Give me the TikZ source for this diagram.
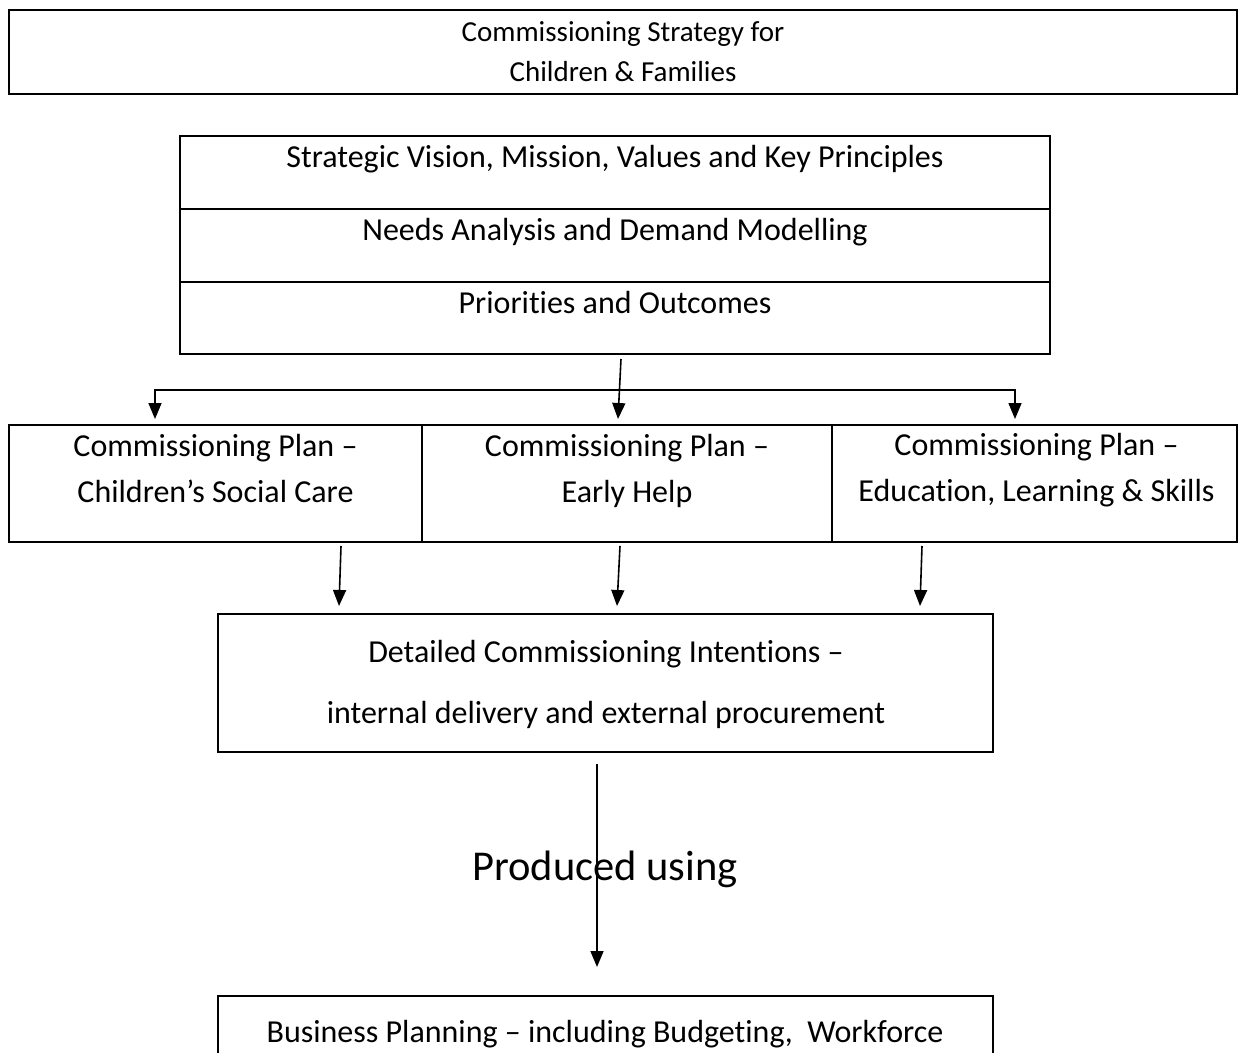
\documentclass[tikz,border=0pt]{standalone}
\usepackage{fontspec}
\setmainfont{Carlito}[Ligatures=NoCommon]
\usetikzlibrary{arrows.meta}
\tikzset{
	box/.style={draw, line width=2pt, inner sep=0pt},
	txt/.style={font=\fontsize{32}{46}\selectfont, align=center, inner sep=0pt},
	arr/.style={-{Triangle[length=16pt,width=13pt]}, line width=1.6pt},
}
\begin{document}
\begin{tikzpicture}[x=1pt, y=-1pt]
		\clip (0,0) rectangle (1239,1052);
		
		\node[box, minimum width=1228pt, minimum height=84pt, align=center, font=\fontsize{29}{40}\selectfont] (strategy) at (623,52) {Commissioning Strategy for\\Children \& Families};
		
		\node[box, minimum width=870pt, minimum height=73pt] (vision) at (615,172.5) {};
		\node[box, minimum width=870pt, minimum height=73pt] (needs) at (615,245.5) {};
		\node[box, minimum width=870pt, minimum height=72pt] (prio) at (615,318) {};
		\node[txt, anchor=base] (vision text) at (615,167) {Strategic Vision, Mission, Values and Key Principles};
		\node[txt, anchor=base] (needs text) at (615,240) {Needs Analysis and Demand Modelling};
		\node[txt, anchor=base] (prio text) at (615,313) {Priorities and Outcomes};
		
		\node[box, minimum width=413pt, minimum height=117pt] (care) at (215.5,483.5) {};
		\node[box, minimum width=410pt, minimum height=117pt] (help) at (627,483.5) {};
		\node[box, minimum width=405pt, minimum height=117pt] (educ) at (1034.5,483.5) {};
		\node[txt] (care text) at (215.5,468.5) {Commissioning Plan --\\Children’s Social Care};
		\node[txt] (help text) at (627,470.5) {Commissioning Plan --\\Early Help};
		\node[txt] (educ text) at (1036.5,470.5) {Commissioning Plan --\\Education, Learning \& Skills};
		
		\node[box, minimum width=775pt, minimum height=138pt] (detail) at (605.5,683) {};
		\node[txt, font=\fontsize{32}{61}\selectfont] (detail text) at (606,684) {Detailed Commissioning Intentions --\\internal delivery and external procurement};
		
		\node[box, minimum width=775pt, minimum height=120pt] (business) at (605.5,1056) {};
		\node[txt, anchor=base] (business text) at (605,1042) {Business Planning -- including Budgeting,\ \ Workforce};
		
		\coordinate (fork) at (619,390);
		\draw[arr] ([xshift=6pt,yshift=-4pt]prio.south) -- ([xshift=-9pt,yshift=5pt]help.north);
		\draw[arr] (fork) -| ([xshift=-60.5pt,yshift=5pt]care.north);
		\draw[arr] (fork) -| ([xshift=-19.5pt,yshift=5pt]educ.north);
		
		\draw[arr] ([xshift=125.5pt,yshift=-3pt]care.south) -- ([xshift=-266.5pt,yshift=7pt]detail.north);
		\draw[arr] ([xshift=-7pt,yshift=-3pt]help.south) -- ([xshift=11.5pt,yshift=7pt]detail.north);
		\draw[arr] ([xshift=-112.5pt,yshift=-3pt]educ.south) -- ([xshift=314.5pt,yshift=7pt]detail.north);
		
		\draw[arr] ([xshift=-8.5pt,yshift=-11pt]detail.south) -- ([xshift=-8.5pt,yshift=28pt]business.north);
		\node[txt, font=\fontsize{42.5}{50}\selectfont] (produced) at (605,869) {Produced using};
		\end{tikzpicture}
\end{document}
